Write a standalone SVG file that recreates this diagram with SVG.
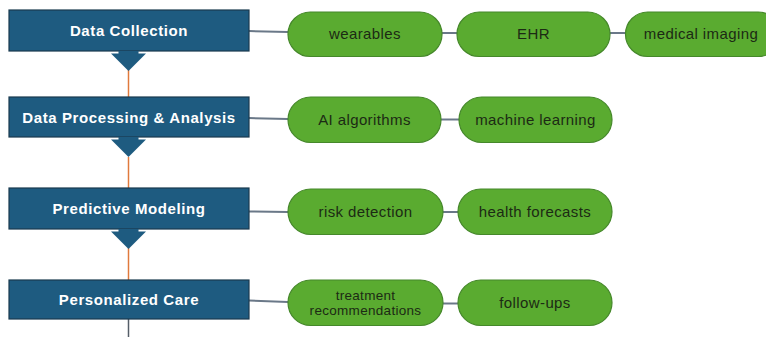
<svg xmlns="http://www.w3.org/2000/svg" width="766" height="337" viewBox="0 0 766 337">
  <style>
    .box { fill: #1e5b80; stroke: #1a3a4f; stroke-width: 1.2; }
    .arrow { fill: #1e5b80; }
    .btxt { fill: #ffffff; font-family: "Liberation Sans", Arial, sans-serif; font-weight: bold; font-size: 15px; letter-spacing: 0.6px; text-anchor: middle; }
    .pill { fill: #5aab30; stroke: #45882a; stroke-width: 1.2; }
    .ptxt { fill: #1c2a14; font-family: "Liberation Sans", Arial, sans-serif; font-size: 15px; letter-spacing: 0.4px; text-anchor: middle; }
    .ptxt2 { fill: #1c2a14; font-family: "Liberation Sans", Arial, sans-serif; font-size: 13.5px; letter-spacing: 0.3px; text-anchor: middle; }
    .conn { stroke: #6a7888; stroke-width: 2; fill: none; }
    .flow { stroke: #e07a3c; stroke-width: 1.5; fill: none; }
    .tail { stroke: #555e68; stroke-width: 1.5; fill: none; }
  </style>
  <rect width="766" height="337" fill="#ffffff"/>

  <g id="connectors">
    <line class="flow" x1="128.5" y1="70" x2="128.5" y2="97"/>
    <line class="flow" x1="128.5" y1="157" x2="128.5" y2="188"/>
    <line class="flow" x1="128.5" y1="248" x2="128.5" y2="280"/>
    <line class="tail" x1="128.5" y1="319" x2="128.5" y2="337"/>
    <line class="conn" x1="249" y1="31" x2="288" y2="32"/>
    <line class="conn" x1="442" y1="33" x2="458" y2="33"/>
    <line class="conn" x1="610" y1="33" x2="626" y2="33"/>
    <line class="conn" x1="249" y1="118" x2="288" y2="119"/>
    <line class="conn" x1="441" y1="119.5" x2="459" y2="119.5"/>
    <line class="conn" x1="249" y1="211.5" x2="288" y2="212"/>
    <line class="conn" x1="443" y1="212" x2="458" y2="212"/>
    <line class="conn" x1="249" y1="300.5" x2="288" y2="302"/>
    <line class="conn" x1="443" y1="303.5" x2="458" y2="303.5"/>
  </g>

  <g id="data-collection">
    <rect class="box" x="9" y="10" width="240" height="41"/>
    <polygon class="arrow" points="118.5,51 138.5,51 138.5,53.5 146,53.5 128.5,71 111,53.5 118.5,53.5"/>
    <text class="btxt" x="129" y="36">Data Collection</text>
  </g>
  <g id="data-processing">
    <rect class="box" x="9" y="97" width="240" height="40"/>
    <polygon class="arrow" points="118.5,137 138.5,137 138.5,139.5 146,139.5 128.5,157 111,139.5 118.5,139.5"/>
    <text class="btxt" x="129" y="123">Data Processing &amp; Analysis</text>
  </g>
  <g id="predictive-modeling">
    <rect class="box" x="9" y="188" width="240" height="41"/>
    <polygon class="arrow" points="118.5,229 138.5,229 138.5,231.5 146,231.5 128.5,249 111,231.5 118.5,231.5"/>
    <text class="btxt" x="129" y="214">Predictive Modeling</text>
  </g>
  <g id="personalized-care">
    <rect class="box" x="9" y="280" width="240" height="39"/>
    <text class="btxt" x="129" y="305">Personalized Care</text>
  </g>

  <g id="wearables">
    <rect class="pill" x="288" y="12" width="154" height="44.5" rx="22.25"/>
    <text class="ptxt" x="365" y="39">wearables</text>
  </g>
  <g id="ehr">
    <rect class="pill" x="457" y="12" width="153" height="44.5" rx="22.25"/>
    <text class="ptxt" x="533.5" y="39">EHR</text>
  </g>
  <g id="medical-imaging">
    <rect class="pill" x="625.5" y="12" width="155" height="44.5" rx="22.25"/>
    <text class="ptxt" x="701" y="39">medical imaging</text>
  </g>

  <g id="ai-algorithms">
    <rect class="pill" x="288" y="97" width="153" height="45.5" rx="22.75"/>
    <text class="ptxt" x="364.5" y="124.5">AI algorithms</text>
  </g>
  <g id="machine-learning">
    <rect class="pill" x="459" y="97" width="153" height="45.5" rx="22.75"/>
    <text class="ptxt" x="535.5" y="124.5">machine learning</text>
  </g>

  <g id="risk-detection">
    <rect class="pill" x="288" y="189" width="155" height="45.5" rx="22.75"/>
    <text class="ptxt" x="365.5" y="217">risk detection</text>
  </g>
  <g id="health-forecasts">
    <rect class="pill" x="458" y="189" width="154" height="45.5" rx="22.75"/>
    <text class="ptxt" x="535" y="217">health forecasts</text>
  </g>

  <g id="treatment-recommendations">
    <rect class="pill" x="288" y="280" width="155" height="45.5" rx="22.75"/>
    <text class="ptxt2" x="365.5" y="299.5">treatment</text>
    <text class="ptxt2" x="365.5" y="315">recommendations</text>
  </g>
  <g id="follow-ups">
    <rect class="pill" x="458" y="280" width="154" height="45.5" rx="22.75"/>
    <text class="ptxt" x="535" y="308">follow-ups</text>
  </g>
</svg>
